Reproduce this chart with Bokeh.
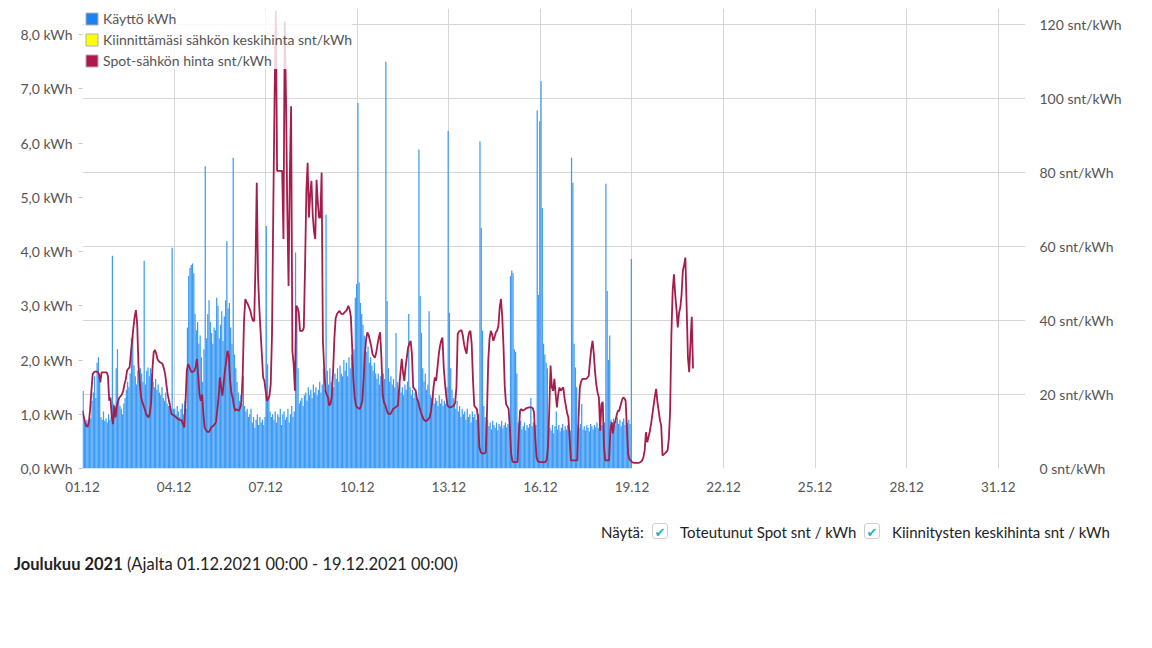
from bokeh.plotting import figure
from bokeh.models import Range1d, LinearAxis, FixedTicker, Legend, LegendItem, Div
from bokeh.layouts import column
from bokeh.embed import file_html
from bokeh.resources import INLINE

# ---------------- data (hourly) ----------------
# Consumption kWh, 01.12 00:00 .. 18.12 23:00
u01 = [1.43, 0.88, 0.85, 0.90, 0.82, 0.95, 0.92, 1.25, 1.40, 1.70, 1.30, 1.95, 2.05, 1.60, 0.95, 0.90, 1.05, 0.88, 0.92, 0.85, 1.00, 0.90, 0.95, 3.92]
u02 = [1.20, 1.05, 1.85, 2.20, 1.30, 1.15, 1.10, 1.00, 1.20, 1.30, 1.45, 1.60, 1.50, 1.75, 2.40, 2.45, 1.90, 1.70, 1.55, 1.80, 1.70, 1.85, 1.75, 1.60]
u03 = [3.83, 1.55, 1.80, 1.86, 1.70, 1.85, 1.75, 1.60, 1.50, 1.65, 1.45, 1.55, 1.40, 1.35, 1.50, 1.30, 1.25, 1.40, 1.20, 1.15, 1.25, 1.05, 4.07, 1.10]
u04 = [1.10, 1.00, 1.15, 1.05, 0.95, 1.10, 1.20, 1.00, 1.25, 1.10, 2.60, 3.55, 3.70, 3.75, 3.78, 3.60, 2.85, 2.55, 2.70, 2.30, 2.45, 2.05, 1.60, 2.20]
u05 = [5.57, 2.40, 2.85, 3.10, 2.70, 2.50, 2.30, 2.60, 2.55, 3.15, 3.00, 2.40, 2.65, 2.90, 2.35, 2.80, 3.10, 4.19, 2.95, 3.05, 2.60, 2.30, 5.73, 2.10]
u06 = [1.85, 1.60, 1.40, 1.25, 1.35, 1.20, 1.70, 1.15, 1.05, 1.10, 0.95, 1.00, 1.10, 0.85, 0.95, 0.75, 0.90, 1.00, 0.80, 0.95, 0.85, 0.90, 0.80, 0.95]
u07 = [4.47, 1.92, 1.30, 1.05, 0.95, 1.00, 0.90, 1.05, 0.85, 1.00, 0.95, 1.10, 0.80, 1.00, 1.05, 0.90, 0.95, 1.10, 0.85, 1.00, 1.15, 0.95, 1.05, 3.98]
u08 = [3.00, 1.85, 1.20, 1.25, 1.30, 1.15, 1.35, 1.40, 1.25, 1.50, 1.35, 1.45, 1.30, 1.55, 1.40, 1.50, 1.35, 1.45, 1.60, 1.40, 1.55, 1.85, 1.45, 4.68]
u09 = [1.80, 1.55, 1.85, 1.60, 1.70, 1.50, 1.75, 1.65, 1.85, 1.60, 1.90, 1.75, 1.70, 2.00, 1.80, 1.95, 1.70, 2.05, 1.85, 2.10, 1.90, 2.20, 3.15, 3.40]
u10 = [6.74, 3.43, 3.05, 2.85, 2.65, 2.45, 2.35, 2.15, 2.25, 1.95, 2.05, 1.90, 1.80, 1.95, 1.75, 1.65, 1.75, 1.55, 1.70, 1.60, 1.75, 1.65, 7.50, 3.09]
u11 = [1.85, 1.60, 1.70, 1.55, 1.65, 1.50, 2.50, 1.60, 1.45, 1.55, 1.40, 1.50, 1.35, 1.55, 1.45, 1.60, 2.85, 1.50, 1.35, 1.45, 1.30, 1.40, 1.35, 1.25]
u12 = [5.88, 3.18, 2.50, 1.85, 1.60, 1.75, 1.45, 1.55, 2.90, 1.35, 1.30, 1.37, 1.20, 1.30, 1.25, 1.15, 1.35, 1.20, 1.28, 1.15, 1.25, 1.20, 1.50, 6.22]
u13 = [2.87, 1.85, 1.45, 1.30, 1.20, 1.10, 1.25, 1.05, 1.15, 0.95, 1.10, 1.00, 1.05, 0.90, 1.10, 0.95, 1.00, 0.85, 1.05, 0.95, 1.00, 0.90, 1.10, 1.00]
u14 = [6.03, 4.44, 2.54, 1.15, 0.95, 0.85, 0.90, 0.78, 0.85, 0.72, 0.88, 0.80, 0.75, 0.85, 0.70, 0.82, 0.78, 0.88, 0.74, 0.80, 0.85, 0.76, 0.82, 0.78]
u15 = [3.55, 3.65, 3.60, 2.20, 2.15, 1.75, 0.85, 0.80, 0.88, 0.72, 0.78, 0.85, 0.70, 0.80, 0.75, 0.82, 1.30, 0.78, 0.85, 0.72, 0.80, 6.60, 3.20, 6.40]
u16 = [7.14, 4.80, 2.30, 2.10, 1.95, 1.85, 0.85, 0.75, 0.70, 0.80, 0.65, 0.78, 1.05, 0.72, 0.80, 0.68, 0.75, 0.82, 0.70, 0.78, 0.72, 0.80, 0.76, 0.70]
u17 = [5.73, 5.27, 2.30, 1.86, 1.50, 0.80, 0.75, 0.82, 1.19, 0.72, 0.78, 0.70, 0.80, 0.75, 0.68, 0.82, 0.78, 0.72, 0.80, 0.76, 0.85, 0.74, 0.80, 0.78]
u18 = [0.80, 0.75, 0.85, 5.25, 3.27, 2.00, 2.45, 0.90, 0.85, 0.92, 0.80, 0.88, 0.94, 0.82, 0.90, 0.78, 0.86, 0.92, 0.80, 0.88, 0.84, 0.90, 0.82, 3.86]

# Spot price snt/kWh, 01.12 00:00 .. 21.12 00:00
s01 = [15.6, 14.0, 12.5, 11.5, 11.3, 12.5, 16.0, 21.0, 25.5, 26.0, 26.2, 26.2, 26.0, 25.5, 23.3, 26.0, 26.0, 26.0, 26.0, 26.0, 25.0, 18.3, 19.2, 14.0]
s02 = [12.0, 17.0, 13.8, 17.0, 18.3, 19.2, 19.5, 20.0, 21.0, 22.8, 24.0, 26.4, 27.0, 27.3, 31.0, 34.5, 38.0, 41.0, 42.8, 39.0, 28.0, 23.0, 19.5, 18.0]
s03 = [17.0, 16.0, 14.7, 14.2, 13.8, 15.0, 18.0, 27.0, 31.5, 32.0, 31.0, 29.5, 29.0, 28.7, 28.5, 28.2, 27.0, 25.5, 22.5, 20.0, 18.3, 16.5, 14.7, 14.5]
s04 = [14.3, 14.0, 13.7, 13.4, 13.2, 13.1, 13.0, 12.0, 11.1, 18.0, 26.4, 28.2, 27.5, 26.5, 26.0, 26.2, 26.4, 27.5, 29.6, 25.0, 20.0, 18.3, 20.0, 15.0]
s05 = [11.1, 10.5, 10.0, 9.8, 10.2, 11.0, 11.3, 11.6, 12.0, 12.6, 16.0, 19.2, 24.6, 22.0, 19.7, 23.0, 26.5, 29.0, 31.8, 30.5, 24.0, 20.6, 19.2, 17.0]
s06 = [15.6, 16.0, 15.8, 15.6, 16.5, 18.0, 26.0, 40.0, 45.8, 45.0, 44.4, 43.5, 42.6, 41.0, 39.9, 39.9, 55.0, 77.2, 52.0, 43.5, 37.0, 31.0, 24.6, 23.7]
s07 = [21.0, 18.3, 18.8, 19.7, 22.8, 36.3, 70.0, 100.0, 123.7, 80.4, 80.4, 80.4, 80.4, 80.4, 62.0, 120.8, 100.0, 70.0, 49.3, 79.5, 97.9, 31.8, 28.2, 21.0]
s08 = [44.0, 43.5, 42.2, 37.2, 37.2, 37.2, 38.0, 55.0, 75.0, 82.6, 67.8, 74.0, 77.7, 68.7, 64.0, 62.0, 78.0, 72.0, 67.8, 67.8, 80.0, 34.5, 27.3, 21.0]
s09 = [20.0, 19.2, 17.0, 17.5, 19.5, 26.0, 35.0, 40.5, 41.7, 42.2, 42.6, 42.0, 41.7, 41.8, 42.2, 42.5, 43.0, 44.0, 43.0, 41.0, 33.0, 24.0, 19.2, 17.0]
s10 = [16.5, 16.3, 16.1, 17.0, 18.3, 24.0, 30.9, 35.0, 36.8, 36.0, 34.5, 33.0, 30.9, 30.3, 30.0, 31.5, 33.6, 35.5, 36.8, 30.0, 20.0, 17.9, 17.2, 16.0]
s11 = [15.0, 14.7, 14.7, 15.2, 16.0, 16.3, 16.5, 16.8, 17.0, 22.0, 26.0, 29.6, 26.0, 23.7, 27.3, 30.0, 32.7, 33.8, 34.5, 30.9, 21.9, 21.5, 21.0, 18.8]
s12 = [18.0, 16.5, 15.2, 14.3, 13.4, 13.0, 12.8, 13.0, 13.4, 13.8, 15.5, 18.3, 22.0, 24.6, 23.7, 27.0, 30.5, 33.0, 34.5, 35.4, 27.3, 23.0, 19.5, 17.0]
s13 = [16.7, 16.5, 16.6, 16.8, 17.0, 17.8, 22.0, 36.3, 37.0, 37.2, 37.4, 36.0, 33.6, 32.0, 31.0, 35.0, 36.8, 37.2, 33.6, 24.0, 17.0, 16.5, 16.1, 13.8]
s14 = [5.8, 4.5, 4.1, 4.1, 4.1, 4.3, 14.7, 29.1, 35.0, 37.2, 36.3, 34.5, 35.5, 36.8, 37.3, 38.5, 43.5, 45.8, 41.0, 33.0, 22.0, 17.4, 16.8, 16.1]
s15 = [11.0, 4.0, 2.0, 1.7, 1.7, 1.7, 1.8, 9.3, 15.6, 16.1, 15.6, 15.8, 16.0, 16.3, 16.4, 16.5, 16.5, 16.5, 16.3, 15.2, 8.0, 3.0, 2.0, 1.8]
s16 = [1.7, 1.7, 1.7, 1.7, 1.7, 2.5, 6.0, 16.0, 27.8, 22.0, 21.0, 24.2, 20.0, 16.5, 20.0, 21.9, 21.0, 21.5, 21.9, 19.0, 17.0, 15.0, 13.8, 8.0]
s17 = [2.2, 2.2, 2.2, 2.2, 2.2, 2.2, 13.8, 21.9, 23.5, 24.2, 24.2, 24.2, 24.2, 24.6, 25.0, 29.0, 32.3, 34.5, 31.0, 26.0, 22.5, 20.5, 19.2, 10.2]
s18 = [17.4, 18.0, 6.0, 2.2, 2.2, 2.2, 2.2, 10.0, 12.5, 9.5, 12.0, 12.9, 14.5, 15.6, 15.6, 17.0, 18.3, 19.2, 19.0, 18.3, 11.1, 4.0, 2.5, 2.2]
s19 = [1.7, 1.6, 1.5, 1.5, 1.5, 1.5, 1.6, 1.8, 2.2, 3.0, 4.9, 9.8, 7.1, 8.5, 10.0, 12.0, 14.5, 17.0, 19.5, 21.5, 18.0, 15.6, 13.0, 11.6]
s20 = [3.5, 3.8, 4.1, 4.5, 4.9, 8.0, 15.6, 36.3, 48.0, 52.5, 47.0, 43.0, 38.1, 42.0, 43.5, 47.0, 53.4, 55.0, 57.0, 43.5, 30.0, 26.0, 34.0, 41.0, 27.0]

x_tick_hours = [0, 72, 144, 216, 288, 360, 432, 504, 576, 648, 720]
x_tick_labels = ["01.12", "04.12", "07.12", "10.12", "13.12", "16.12", "19.12", "22.12", "25.12", "28.12", "31.12"]
kwh_ticks = [0, 1, 2, 3, 4, 5, 6, 7, 8]
kwh_labels = ["0,0 kWh", "1,0 kWh", "2,0 kWh", "3,0 kWh", "4,0 kWh", "5,0 kWh", "6,0 kWh", "7,0 kWh", "8,0 kWh"]
price_ticks = [0, 20, 40, 60, 80, 100, 120]
price_labels = ["0 snt/kWh", "20 snt/kWh", "40 snt/kWh", "60 snt/kWh", "80 snt/kWh", "100 snt/kWh", "120 snt/kWh"]
legend_labels = ["Käyttö kWh", "Kiinnittämäsi sähkön keskihinta snt/kWh", "Spot-sähkön hinta snt/kWh"]

kwh = u01 + u02 + u03 + u04 + u05 + u06 + u07 + u08 + u09 + u10 + u11 + u12 + u13 + u14 + u15 + u16 + u17 + u18
spot = s01 + s02 + s03 + s04 + s05 + s06 + s07 + s08 + s09 + s10 + s11 + s12 + s13 + s14 + s15 + s16 + s17 + s18 + s19 + s20
kwh_x = [h + 0.5 for h in range(len(kwh))]
spot_x = list(range(len(spot)))

FONT = "Lato"
BAR = "#3d9bf5"
SPOT = "#a61c4b"
GRID = "#d6d6d6"

p = figure(frame_width=943, frame_height=460,
           x_range=Range1d(0, 741.4), y_range=Range1d(0, 124.3),
           y_axis_location="right", output_backend="svg", toolbar_location=None,
           min_border_left=82, min_border_right=110, min_border_top=8, min_border_bottom=30,
           outline_line_color=None, background_fill_color="white", border_fill_color="white")

ax_right = p.right[0]
p.extra_y_ranges = {"kwh": Range1d(0, 8.48)}

bars = p.vbar(x=kwh_x, top=kwh, width=0.98, bottom=0, y_range_name="kwh",
              fill_color=BAR, line_color=None)
p.line(spot_x, spot, line_color=SPOT, line_width=1.8)

# left (kWh) axis
ax_left = LinearAxis(y_range_name="kwh", ticker=FixedTicker(ticks=kwh_ticks),
                     major_label_overrides={t: l for t, l in zip(kwh_ticks, kwh_labels)})
p.add_layout(ax_left, "left")
ax_left.axis_line_color = None
ax_left.major_tick_line_color = "#c8c8c8"
ax_left.major_tick_out = 4
ax_left.major_tick_in = 0
ax_left.minor_tick_line_color = None
ax_left.major_label_standoff = 6

# right (price) axis
ax_right.ticker = FixedTicker(ticks=price_ticks)
ax_right.major_label_overrides = {t: l for t, l in zip(price_ticks, price_labels)}
ax_right.axis_line_color = None
ax_right.major_tick_line_color = None
ax_right.minor_tick_line_color = None
ax_right.major_label_standoff = 8

# x axis
xa = p.below[0]
xa.ticker = FixedTicker(ticks=x_tick_hours)
xa.major_label_overrides = {t: l for t, l in zip(x_tick_hours, x_tick_labels)}
xa.axis_line_color = None
xa.major_tick_line_color = None
xa.minor_tick_line_color = None
xa.major_label_standoff = 7

for ax, fs in ((ax_left, "14px"), (ax_right, "14px"), (xa, "13.5px")):
    ax.major_label_text_font = FONT
    ax.major_label_text_font_size = fs
    ax.major_label_text_color = "#555555"

p.xgrid.grid_line_color = GRID
p.ygrid.grid_line_color = GRID
p.xgrid.ticker = FixedTicker(ticks=x_tick_hours)
p.ygrid.ticker = FixedTicker(ticks=price_ticks)

# legend with square swatches (swatch renderers hold no visible data)
sw_colors = ["#1a82f2", "#ffff00", "#b0174d"]
nan = float("nan")
items = []
for lab, c in zip(legend_labels, sw_colors):
    r = p.quad(left=[nan], right=[nan], top=[nan], bottom=[nan], fill_color=c,
               line_color="#b0b0b0", line_width=1)
    items.append(LegendItem(label=lab, renderers=[r]))
leg = Legend(items=items, location="top_left")
leg.background_fill_color = "white"
leg.background_fill_alpha = 0.82
leg.border_line_color = None
leg.label_text_font = FONT
leg.label_text_font_size = "14px"
leg.label_text_color = "#555555"
leg.glyph_width = 15
leg.glyph_height = 15
leg.label_height = 15
leg.label_standoff = 4
leg.spacing = 4
leg.padding = 3
leg.margin = 2
p.add_layout(leg)

box = ("position:absolute; top:{t}px; left:{l}px; width:16px; height:16px; border:1px solid #cfcfcf; "
       "border-radius:3px; background:#fff; text-align:center; line-height:17px; "
       "font-family:'DejaVu Sans'; font-size:13px; font-weight:bold; color:#1fb3c8;")
txt = "position:absolute; top:{t}px; left:{l}px; font-family:Lato; font-size:15px; color:#222; white-space:nowrap; line-height:20px;"
html = (
    '<div style="position:relative; width:1130px; height:90px;">'
    f'<span style="{txt.format(t=24, l=601)}">Näytä:</span>'
    f'<span style="{box.format(t=25, l=652)}">&#10004;</span>'
    f'<span style="{txt.format(t=24, l=680)}">Toteutunut Spot snt / kWh</span>'
    f'<span style="{box.format(t=25, l=864)}">&#10004;</span>'
    f'<span style="{txt.format(t=24, l=892)}">Kiinnitysten keskihinta snt / kWh</span>'
    f'<span style="{txt.format(t=56, l=14)} font-size:16.5px;"><b>Joulukuu 2021</b> (Ajalta 01.12.2021 00:00 - 19.12.2021 00:00)</span>'
    '</div>'
)
info = Div(text=html, width=1130, height=90, margin=(0, 0, 0, 0))

layout = column(p, info, spacing=0)
open("out.html", "w").write(file_html(layout, INLINE))
